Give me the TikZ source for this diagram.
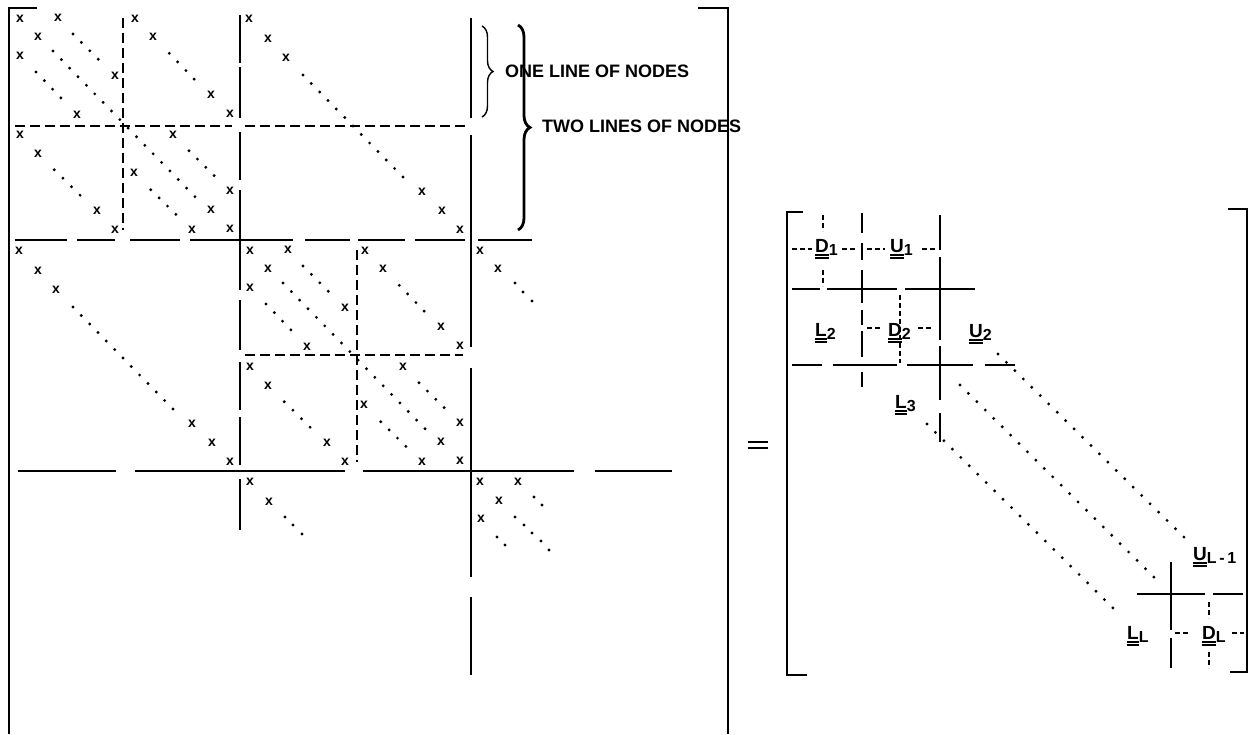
\documentclass[tikz,border=0pt]{standalone}
\usepackage{fontspec}
\setmainfont{Liberation Sans}
\usetikzlibrary{decorations.pathreplacing}

\newcommand{\ddul}[1]{\setbox0\hbox{#1}\rlap{\rule[-3.6pt]{\wd0}{1.2pt}}\rlap{\rule[-6.6pt]{\wd0}{1.2pt}}\box0}
\newcommand{\mysub}[1]{\raisebox{-3.5pt}{\fontsize{16}{16}\selectfont #1}}

% big diagonal block (2x2 sub-blocks), corner at (#1,#2)
\newcommand{\diagblock}[3]{%
 \begin{scope}[shift={(#1,#2)}]
  \foreach \a/\b [count=\i] in {10/11,48/10,28/29,10/48,105/68,67/107,
     125/11,143/29,201/87,220/106,
     10/127,28/146,87/203,105/222,
     163/127,220/183,124/165,201/202,182/222,220/221}
     {\node[xent] (#3x\i) at (\a,\b) {x};}
  \foreach \k in {0,...,17} \fill ({43+8.35*\k},{43+8.57*\k}) circle (1.6pt);
  \foreach \k in {0,...,3} {
     \fill ({63+8.4*\k},{26+8.4*\k}) circle (1.6pt);
     \fill ({26+8.3*\k},{64+8.6*\k}) circle (1.6pt);
     \fill ({159.3+8.3*\k},{45.3+8.6*\k}) circle (1.6pt);
     \fill ({44.3+8.6*\k},{161.7+8.5*\k}) circle (1.6pt);
     \fill ({179+8.4*\k},{142.7+8.3*\k}) circle (1.6pt);
     \fill ({140.7+8.4*\k},{181.7+8.2*\k}) circle (1.6pt);
  }
 \end{scope}}

% off-diagonal big block: single diagonal
\newcommand{\offblock}[3]{%
 \begin{scope}[shift={(#1,#2)}]
  \foreach \a/\b [count=\i] in {9/11,28/31,46/50,182/184,202/203,220/222}
     {\node[xent] (#3x\i) at (\a,\b) {x};}
  \foreach \k in {0,...,12} \fill ({63+8.33*\k},{67+8.5*\k}) circle (1.6pt);
 \end{scope}}

\begin{document}
\begin{tikzpicture}[x=1pt,y=-1pt,
  bracket/.style={line width=2.7pt},
  solidseg/.style={line width=2.4pt},
  dashseg/.style={line width=1.8pt, dash pattern=on 10pt off 5pt},
  tinydash/.style={line width=1.5pt, dash pattern=on 5pt off 3pt},
  midseg/.style={line width=2pt},
  xent/.style={inner sep=0pt, font=\fontsize{14}{14}\selectfont\bfseries},
  lab/.style={inner sep=0pt, anchor=base west, font=\fontsize{19}{20}\selectfont\bfseries},
  note/.style={inner sep=0pt, anchor=west, font=\fontsize{18}{20}\selectfont\bfseries},
]
\useasboundingbox (0,0) rectangle (1256,734);

% ===== left matrix =====
\draw[bracket] (37,8) -- (9,8) -- (9,734);
\draw[bracket] (698,8) -- (728,8) -- (728,734);

% short dashed sub-block lines
\draw[dashseg] (123,18) -- (123,230);
\draw[dashseg] (357,250) -- (357,462);
\draw[dashseg] (15,126) -- (232,126);
\draw[dashseg] (245,126) -- (467,126);
\draw[dashseg] (245,355) -- (463,355);

% long-dash block lines
\foreach \s/\e in {15/63,67/118,132/180,190/290,300/350,362/410,417/465,479/530}
  \draw[solidseg] (240,\s) -- (240,\e);
\foreach \s/\e in {18/118,135/347,368/577,597/675}
  \draw[solidseg] (471,\s) -- (471,\e);
\foreach \s/\e in {15/67,77/115,130/180,190/293,305/350,358/405,415/465,478/532}
  \draw[solidseg] (\s,240) -- (\e,240);
\foreach \s/\e in {18/116,135/345,363/574,595/672}
  \draw[solidseg] (\s,471) -- (\e,471);

% entries
\diagblock{10}{8}{A}
\diagblock{240}{240}{B}
\offblock{240}{8}{C}
\offblock{10}{240}{E}

% partial blocks
\node[xent] (F1) at (480,251) {x};
\node[xent] (F2) at (498,269) {x};
\foreach \p in {(515,283),(523,292),(532,301)} \fill \p circle (1.6pt);
\node[xent] (G1) at (250,482) {x};
\node[xent] (G2) at (269,502) {x};
\foreach \p in {(285,517),(293,525),(302,534)} \fill \p circle (1.6pt);
\node[xent] (H1) at (480,482) {x};
\node[xent] (H2) at (518,482) {x};
\node[xent] (H3) at (499,501) {x};
\node[xent] (H4) at (481,519) {x};
\foreach \p in {(534,497),(542,505),(515,517),(524,525),(532,533),(541,541),(549,550),(497,537),(505,545)}
  \fill \p circle (1.6pt);

% braces and notes
\draw[decorate, decoration={brace, amplitude=11pt}, line width=1.4pt] (482,26) -- (482,117);
\draw[decorate, decoration={brace, amplitude=12pt}, line width=2.8pt] (518,25) -- (518,230);
\node[note] (one) at (505,71) {ONE LINE OF NODES};
\node[note] (two) at (542,126) {TWO LINES OF NODES};

% equals sign
\draw[line width=2.5pt] (748,442) -- (768,442);
\draw[line width=2.5pt] (748,448) -- (768,448);

% ===== right matrix =====
\draw[bracket] (803,212) -- (787,212) -- (787,675) -- (807,675);
\draw[bracket] (1228,209) -- (1247,209) -- (1247,672) -- (1230,672);

% horizontal block lines
\foreach \s/\e in {792/820,827/897,905/975}
  \draw[solidseg] (\s,289) -- (\e,289);
\foreach \s/\e in {792/822,833/897,907/973,985/1015}
  \draw[solidseg] (\s,365) -- (\e,365);
\foreach \s/\e in {1137/1205,1213/1243}
  \draw[solidseg] (\s,594) -- (\e,594);
% vertical block lines
\foreach \s/\e in {215/250,257/340,346/400,413/442}
  \draw[solidseg] (940,\s) -- (940,\e);
\foreach \s/\e in {213/233,243/260,270/303,310/325,331/357,372/387}
  \draw[midseg] (862,\s) -- (862,\e);
\foreach \s/\e in {562/630,638/668}
  \draw[solidseg] (1171,\s) -- (1171,\e);

% tiny dashes around diagonal blocks
\foreach \s/\e in {792/812,842/857,867/885,922/937}
  \draw[tinydash] (\s,249) -- (\e,249);
\foreach \s/\e in {867/882,918/933}
  \draw[tinydash] (\s,328) -- (\e,328);
\foreach \s/\e in {1175/1190,1232/1244}
  \draw[tinydash] (\s,633) -- (\e,633);
\draw[tinydash] (823,215) -- (823,231);
\draw[tinydash] (823,270) -- (823,286);
\draw[tinydash] (900,295) -- (900,363);
\draw[tinydash] (1209,602) -- (1209,618);
\draw[tinydash] (1209,652) -- (1209,668);

% dotted diagonals
\foreach \k in {0,...,22} \fill ({998+8.45*\k},{354+8.32*\k}) circle (1.6pt);
\foreach \k in {0,...,23} \fill ({960+8.43*\k},{385+8.35*\k}) circle (1.6pt);
\foreach \k in {0,...,22} \fill ({927+8.45*\k},{424+8.36*\k}) circle (1.6pt);

% labels
\node[lab] (D1) at (815,252) {\ddul{D}\mysub{1}};
\node[lab] (U1) at (890,252) {\ddul{U}\mysub{1}};
\node[lab] (L2) at (815,336) {\ddul{L}\mysub{2}};
\node[lab] (D2) at (888,336) {\ddul{D}\mysub{2}};
\node[lab] (U2) at (969,337) {\ddul{U}\mysub{2}};
\node[lab] (L3) at (895,408) {\ddul{L}\mysub{3}};
\node[lab] (UL) at (1193,560) {\ddul{U}\mysub{L\,-\,1}};
\node[lab] (LL) at (1127,639) {\ddul{L}\mysub{L}};
\node[lab] (DL) at (1202,639) {\ddul{D}\mysub{L}};
\end{tikzpicture}
\end{document}
